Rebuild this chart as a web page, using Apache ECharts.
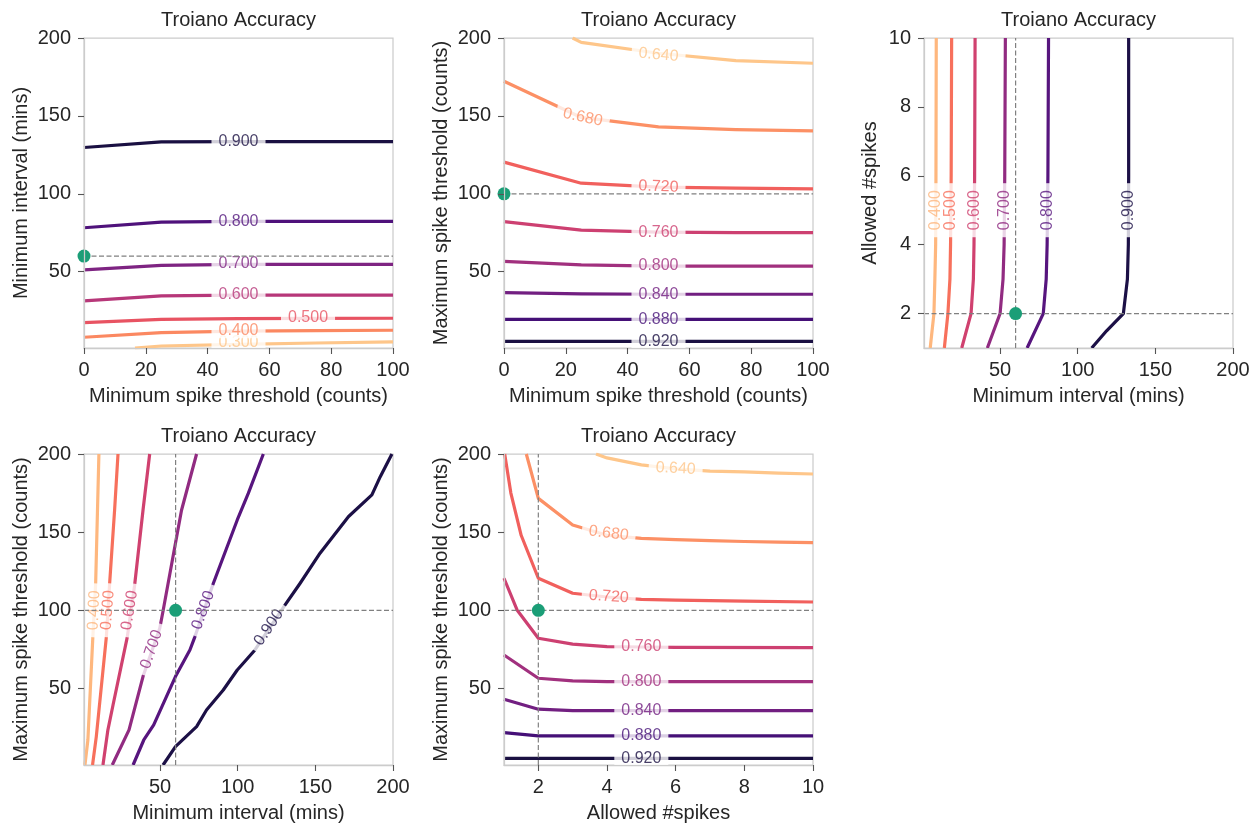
<!DOCTYPE html>
<html><head><meta charset="utf-8">
<script src="https://cdn.jsdelivr.net/npm/echarts@6/dist/echarts.min.js"></script>
<style>html,body{margin:0;padding:0;background:#fff}#c{width:1260px;height:827px}</style>
</head><body><div id="c"></div>
<script>
// ================= DATA =================
const titleText = 'Troiano Accuracy';
const nameMinSpike = 'Minimum spike threshold (counts)';
const nameMinInterval = 'Minimum interval (mins)';
const nameMaxSpike = 'Maximum spike threshold (counts)';
const nameAllowed = 'Allowed #spikes';

const ticks0to100 = [0, 20, 40, 60, 80, 100];
const ticks50to200 = [50, 100, 150, 200];
const ticks2to10 = [2, 4, 6, 8, 10];

// Panel 1: x = min spike threshold, y = min interval
const p1Levels = [0.3, 0.4, 0.5, 0.6, 0.7, 0.8, 0.9];
const p1Lines = [
  [[16.5,1],[25,2.3],[50,3.3],[75,4.2],[100,4.9]],
  [[0,7.9],[25,10.9],[50,11.8],[75,12.1],[100,12.4]],
  [[0,17.3],[25,19.4],[50,19.8],[75,20.0],[100,20.1]],
  [[0,31.2],[25,34.4],[50,35.0],[75,35.0],[100,35.0]],
  [[0,51.1],[25,54.1],[50,54.7],[75,54.7],[100,54.7]],
  [[0,78.2],[25,81.8],[50,82.3],[75,82.3],[100,82.3]],
  [[0,129.7],[25,133.3],[50,133.5],[75,133.5],[100,133.5]]
];
const p1LabelAt = [[50,4.3],[50,12],[72.5,20.2],[50,35],[50,54.9],[50,82.3],[50,133.5]];
const p1LabelRot = [0,0,0,0,0,0,0];
const p1Ref = [0, 60];

// Panel 2: x = min spike threshold, y = max spike threshold
const p2Levels = [0.64, 0.68, 0.72, 0.76, 0.80, 0.84, 0.88, 0.92];
const p2Lines = [
  [[22.2,200],[25,197.2],[50,190.2],[75,185.5],[100,183.8]],
  [[0,172.2],[25,149],[50,142.9],[75,141.2],[100,140.4]],
  [[0,120.3],[25,106.8],[50,104.3],[75,103.6],[100,103.2]],
  [[0,82.1],[25,76.7],[50,75.4],[75,75.1],[100,75.0]],
  [[0,56.6],[25,54.3],[50,53.6],[75,53.6],[100,53.6]],
  [[0,36.5],[25,35.7],[50,35.5],[75,35.5],[100,35.5]],
  [[0,19.4],[25,19.4],[50,19.4],[75,19.4],[100,19.4]],
  [[0,5.3],[25,5.3],[50,5.3],[75,5.3],[100,5.3]]
];
const p2LabelAt = [[50,189.2],[25.5,149],[50,104.6],[50,75.4],[50,53.6],[50,35.5],[50,19.4],[50,5.3]];
const p2LabelRot = [-5,-12,-2,0,0,0,0,0];
const p2Ref = [0, 100];

// Panel 3: x = min interval, y = allowed #spikes
const p3Levels = [0.4, 0.5, 0.6, 0.7, 0.8, 0.9];
const p3Lines = [
  [[5.0,1],[7.4,2],[8.0,3],[8.5,4],[8.7,6],[8.9,10]],
  [[14.1,1],[16.4,2],[17.7,3],[18.1,4],[18.5,6],[18.8,10]],
  [[25.3,1],[31.3,2],[32.8,3],[33.2,4],[33.6,6],[33.9,10]],
  [[41.8,1],[50.0,2],[51.9,3],[52.6,4],[53.0,6],[53.4,10]],
  [[67.4,1],[77.8,2],[79.7,3],[80.3,4],[80.8,6],[81.2,10]],
  [[109,1],[118.6,1.5],[129.4,2],[132,3],[132.6,4],[132.8,6],[132.8,10]]
];
const p3LabelAt = [[8.6,5],[18.3,5],[33.4,5],[52.8,5],[80.5,5],[132.7,5]];
const p3LabelRot = [90,90,90,90,90,90];
const p3Ref = [60, 2];

// Panel 4: x = min interval, y = max spike threshold
const p4Levels = [0.4, 0.5, 0.6, 0.7, 0.8, 0.9];
const p4Lines = [
  [[1.6,1],[3.5,17],[6.7,83],[8.5,117],[10.6,200]],
  [[6.5,1],[8.9,19],[15.4,83],[17.5,117],[20.7,164],[22.9,200]],
  [[13.2,1],[16.4,23.5],[19.7,39.4],[28.9,83],[33.6,116],[39.0,164],[43.3,200]],
  [[19.2,1],[30,23.5],[39,57.6],[49.8,88.5],[52,100],[59.9,142.9],[63.8,164],[73.5,200]],
  [[32.6,1],[39.5,17],[45.9,26.7],[59.9,57.6],[69.2,74.6],[72.4,83],[84.2,117],[99.7,157.8],[106.8,174.8],[116.5,200]],
  [[51.9,1],[59.9,12.8],[73.5,25.6],[79.9,36.2],[90.7,49],[99.7,61.8],[111.1,74.6],[130.5,103.4],[140.2,117.3],[153,136.5],[171.4,160],[186.4,173.8],[191.8,185.5],[199.3,200]]
];
const p4LabelAt = [[7.5,100],[16.3,100],[30.4,100],[44.5,75],[77.8,100],[120,89]];
const p4LabelRot = [87,85,81,71,70,56];
const p4Ref = [60, 100];

// Panel 5: x = allowed #spikes, y = max spike threshold
const p5Levels = [0.64, 0.68, 0.72, 0.76, 0.80, 0.84, 0.88, 0.92];
const p5Lines = [
  [[3.68,200],[4,197.5],[5,193],[6,190.5],[7,189],[8,188.5],[9,187.8],[10,187.2]],
  [[1.65,200],[2,171.6],[3,154.6],[4,148],[5,146],[6,145.2],[7,144.6],[8,144],[9,143.6],[10,143.3]],
  [[1.02,200],[1.2,175],[1.5,148],[2,120.5],[3,110.9],[4,108.5],[5,107],[6,106.5],[8,105.8],[10,105.3]],
  [[1,120.5],[1.38,100.2],[2,82.1],[3,78.3],[4,76.8],[5,76.5],[6,76.3],[10,76.1]],
  [[1,71.4],[2,56.5],[3,54.8],[4,54.4],[10,54.4]],
  [[1,43.1],[2,36.7],[3,35.8],[10,35.8]],
  [[1,21.7],[2,19.6],[10,19.6]],
  [[1,5.3],[10,5.3]]
];
const p5LabelAt = [[6.0,190.7],[4.05,149.2],[4.05,108.7],[5,76.6],[5,54.4],[5,35.8],[5,19.6],[5,5.3]];
const p5LabelRot = [-3,-7,-4,0,0,0,0,0];
const p5Ref = [2, 100];

// ================= STYLE =================
const colors7 = ['#fec68a','#fb8861','#e85362','#b73779','#7e2482','#4f127b','#1a1042'];
const colors8 = ['#fec68a','#fc9065','#f1605d','#cd4071','#a1307e','#721f81','#451077','#1a1042'];
const colors6 = ['#feb77e','#f7705c','#d0416f','#912b81','#57157e','#1c1046'];
const FONT = '"Liberation Sans", Arial, Helvetica, sans-serif';
const TXT = '#262626';
const FRAME = '#cccccc';
const DOT = '#1b9e77';
const FS = 20;

const panels = [
  {levels:p1Levels, lines:p1Lines, labelAt:p1LabelAt, rot:p1LabelRot, ref:p1Ref, colors:colors7,
   box:[84,38,309,310], xName:nameMinSpike, yName:nameMinInterval, xr:[0,100], yr:[1,200], xt:ticks0to100, yt:ticks50to200, yGap:53},
  {levels:p2Levels, lines:p2Lines, labelAt:p2LabelAt, rot:p2LabelRot, ref:p2Ref, colors:colors8,
   box:[504,38,309,310], xName:nameMinSpike, yName:nameMaxSpike, xr:[0,100], yr:[1,200], xt:ticks0to100, yt:ticks50to200, yGap:53},
  {levels:p3Levels, lines:p3Lines, labelAt:p3LabelAt, rot:p3LabelRot, ref:p3Ref, colors:colors6,
   box:[924,38,309,310], xName:nameMinInterval, yName:nameAllowed, xr:[1,200], yr:[1,10], xt:ticks50to200, yt:ticks2to10, yGap:44},
  {levels:p4Levels, lines:p4Lines, labelAt:p4LabelAt, rot:p4LabelRot, ref:p4Ref, colors:colors6,
   box:[84,454,309,311], xName:nameMinInterval, yName:nameMaxSpike, xr:[1,200], yr:[1,200], xt:ticks50to200, yt:ticks50to200, yGap:53},
  {levels:p5Levels, lines:p5Lines, labelAt:p5LabelAt, rot:p5LabelRot, ref:p5Ref, colors:colors8,
   box:[504,454,309,311], xName:nameAllowed, yName:nameMaxSpike, xr:[1,10], yr:[1,200], xt:ticks2to10, yt:ticks50to200, yGap:53}
];

const option = {animation:false, backgroundColor:'#fff', textStyle:{fontFamily:FONT},
  grid:[], xAxis:[], yAxis:[], title:[], series:[]};

panels.forEach((p, i) => {
  const [l, t, w, h] = p.box;
  option.grid.push({left:l, top:t, width:w, height:h, show:true, borderColor:FRAME, borderWidth:1.25, containLabel:false});
  option.title.push({text:titleText, left:l + w/2, textAlign:'center', top:t - 28, padding:0,
    textStyle:{fontFamily:FONT, fontSize:FS, fontWeight:'normal', color:TXT}});
  const axisCommon = {
    axisLine:{show:true, onZero:false, lineStyle:{color:FRAME, width:1.25}},
    axisTick:{show:true, length:6, lineStyle:{color:'#555', width:1.1}},
    splitLine:{show:false},
    nameLocation:'middle',
    nameTextStyle:{fontFamily:FONT, fontSize:FS, color:TXT},
    z:10
  };
  option.xAxis.push(Object.assign({}, axisCommon, {
    gridIndex:i, type:'value', min:p.xr[0], max:p.xr[1], name:p.xName, nameGap:38,
    axisTick:Object.assign({}, axisCommon.axisTick, {customValues:p.xt}),
    axisLabel:{customValues:p.xt, fontFamily:FONT, fontSize:FS, color:TXT, margin:12}
  }));
  option.yAxis.push(Object.assign({}, axisCommon, {
    gridIndex:i, type:'value', min:p.yr[0], max:p.yr[1], name:p.yName, nameGap:p.yGap,
    axisTick:Object.assign({}, axisCommon.axisTick, {customValues:p.yt}),
    axisLabel:{customValues:p.yt, fontFamily:FONT, fontSize:FS, color:TXT, margin:13}
  }));
  // contour lines
  p.lines.forEach((pts, k) => {
    option.series.push({type:'line', xAxisIndex:i, yAxisIndex:i, data:pts, symbol:'none', showSymbol:false,
      silent:true, z:2, lineStyle:{color:p.colors[k], width:3.2, cap:'butt', join:'round'}});
  });
  // contour labels
  option.series.push({type:'scatter', xAxisIndex:i, yAxisIndex:i, symbolSize:1, silent:true, z:3,
    itemStyle:{color:'rgba(0,0,0,0)'},
    data:p.labelAt.map((pt, k) => ({value:pt, label:{show:true, position:'inside', rotate:p.rot[k],
      formatter:p.levels[k].toFixed(3), color:p.colors[k], fontFamily:FONT, fontSize:16,
      backgroundColor:'#fff', padding:[0,7], lineHeight:15}}))
  });
  // reference dashed lines
  const [rx, ry] = p.ref;
  option.series.push({type:'line', xAxisIndex:i, yAxisIndex:i, data:[[p.xr[0], ry],[p.xr[1], ry]], symbol:'none',
    silent:true, z:5, lineStyle:{color:'#808080', width:1.2, type:[5,2.5]}});
  if (rx > p.xr[0]) {
    option.series.push({type:'line', xAxisIndex:i, yAxisIndex:i, data:[[rx, p.yr[0]],[rx, p.yr[1]]], symbol:'none',
      silent:true, z:5, lineStyle:{color:'#808080', width:1.2, type:[5,2.5]}});
  }
  option.series.push({type:'scatter', xAxisIndex:i, yAxisIndex:i, data:[p.ref], symbolSize:13, clip:false,
    silent:true, z:6, itemStyle:{color:DOT, opacity:1}});
});

const chart = echarts.init(document.getElementById('c'), null, {renderer:'canvas'});
chart.setOption(option);
</script></body></html>
